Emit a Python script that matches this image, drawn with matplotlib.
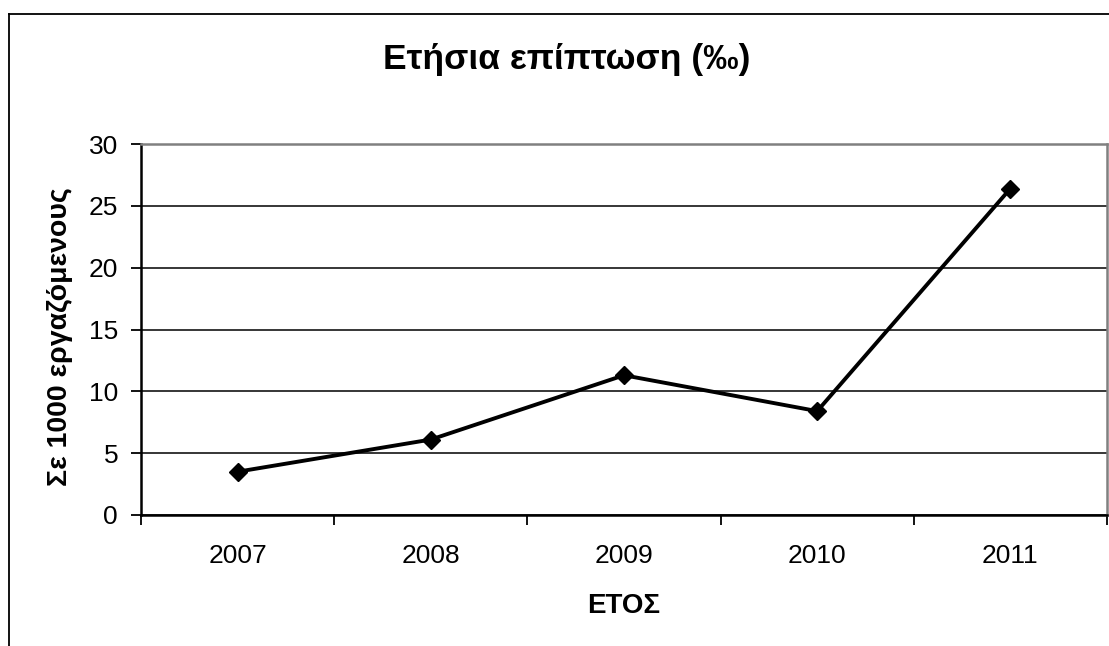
import matplotlib.pyplot as plt
from matplotlib.lines import Line2D
from matplotlib.ticker import FixedLocator, NullFormatter

plt.rcParams['font.family'] = ['Liberation Sans', 'DejaVu Sans']

years = ['2007', '2008', '2009', '2010', '2011']
incidence = [3.5, 6.1, 11.3, 8.4, 26.4]
y_ticks = [0, 5, 10, 15, 20, 25, 30]

fig = plt.figure(figsize=(11.09, 6.46), dpi=100)
ax = fig.add_axes([141 / 1109, 131 / 646, 966 / 1109, 371 / 646])

x = list(range(len(years)))
ax.plot(x, incidence, color='black', lw=2.8, marker='D', markersize=9,
        markerfacecolor='black', markeredgecolor='black', zorder=3)

ax.set_xlim(-0.5, len(years) - 0.5)
ax.set_ylim(0, 30)
ax.set_yticks(y_ticks)
ax.yaxis.grid(True, color='black', lw=1.1)
ax.set_axisbelow(True)

# category axis: ticks between categories, labels centred on them
ax.xaxis.set_major_locator(FixedLocator([i - 0.5 for i in range(len(years) + 1)]))
ax.xaxis.set_major_formatter(NullFormatter())
ax.xaxis.set_minor_locator(FixedLocator(x))
ax.set_xticklabels(years, minor=True)
ax.tick_params(axis='x', which='major', direction='out', length=7.5, width=1.3)
ax.tick_params(axis='x', which='minor', length=0, pad=21, labelsize=19)
ax.tick_params(axis='y', direction='out', length=7.5, width=1.3, pad=9, labelsize=19)

for side in ['left', 'bottom']:
    ax.spines[side].set_linewidth(1.8)
    ax.spines[side].set_color('black')
for side in ['top', 'right']:
    ax.spines[side].set_linewidth(1.8)
    ax.spines[side].set_color('#808080')

ax.set_xlabel('ΕΤΟΣ', fontsize=20, fontweight='bold')
ax.xaxis.set_label_coords(0.5, -0.245)
ax.xaxis.label.set_va('center')
ax.set_ylabel('Σε 1000 εργαζόμενους', fontsize=20.5, fontweight='bold')
ax.yaxis.set_label_coords(-0.084, 0.48)
ax.yaxis.label.set_va('center')

fig.text(567 / 1109, 1 - 60 / 646, 'Ετήσια επίπτωση (‰)', fontsize=25.5,
         fontweight='bold', ha='center', va='center')

# outer chart border (only left and top edges are visible)
left = 9 / 1109
top = 1 - 14 / 646
fig.add_artist(Line2D([left, left], [0, top], transform=fig.transFigure, color='black', lw=1.3))
fig.add_artist(Line2D([left, 1], [top, top], transform=fig.transFigure, color='black', lw=1.3))

fig.savefig('out.png', dpi=100)
